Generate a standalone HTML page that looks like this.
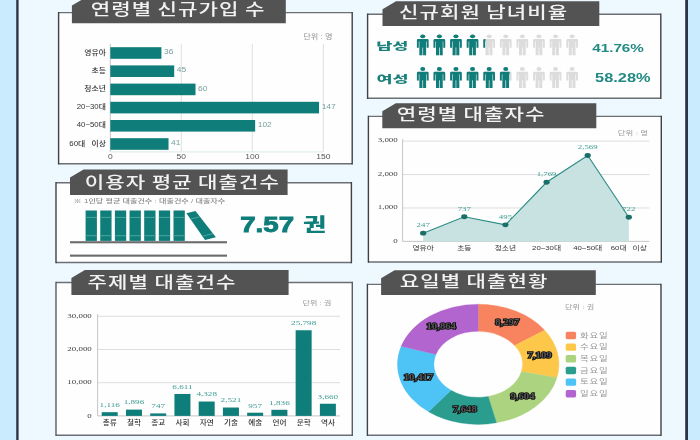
<!DOCTYPE html>
<html lang="ko"><head><meta charset="utf-8"><title>도서관 이용 통계</title>
<style>html,body{margin:0;padding:0;width:700px;height:440px;overflow:hidden;background:#eef8ff}svg{display:block}</style>
</head><body>
<svg width="700" height="440" viewBox="0 0 700 440">
<rect x="0" y="0" width="700" height="440" fill="#eef8ff"/>
<rect x="0" y="0" width="16.2" height="440" fill="#c9ebfd"/>
<rect x="16.2" y="0" width="2.4" height="440" fill="#2c3547"/>
<rect x="685.2" y="0" width="2.8" height="440" fill="#2c3547"/>
<rect x="688" y="0" width="12" height="440" fill="#c9ebfd"/>
<rect x="58.6" y="12.6" width="293.60" height="151.20" fill="#fefefe"/>
<path d="M58.6,12.6H352.2M58.6,163.8H352.2" stroke="#6b6f74" stroke-width="1.4" fill="none"/>
<path d="M58.6,11.9V164.5M352.2,11.9V164.5" stroke="#3f4247" stroke-width="1.4" fill="none"/>
<polygon points="71.9,23.2 71.9,5.6 85.4,-2.4 285.8,-2.4 285.8,23.2" fill="#535353"/>
<text transform="translate(90.73,15.14) scale(1.32,1)" font-family="'Liberation Sans','Noto Sans CJK KR',sans-serif" font-size="16" fill="#f2f2f2" letter-spacing="0.8" word-spacing="-1.1" font-weight="500" >연령별 신규가입 수</text>
<line x1="181.30" y1="43.8" x2="181.30" y2="151.9" stroke="#dcdcdf" stroke-width="0.9"/>
<line x1="252.30" y1="43.8" x2="252.30" y2="151.9" stroke="#dcdcdf" stroke-width="0.9"/>
<line x1="323.30" y1="43.8" x2="323.30" y2="151.9" stroke="#dcdcdf" stroke-width="0.9"/>
<line x1="110.3" y1="43.8" x2="110.3" y2="151.9" stroke="#bfbfbf" stroke-width="0.9"/>
<line x1="110.3" y1="151.9" x2="323.30" y2="151.9" stroke="#d6e6ea" stroke-width="0.9"/>
<rect x="110.3" y="47.20" width="51.12" height="11.6" fill="#0f7d7a"/>
<text transform="translate(164.02,54.20) scale(1.3,1)" font-family="'Liberation Sans','Noto Sans CJK KR',sans-serif" font-size="6.5" fill="#78a09d" >36</text>
<text transform="translate(105.90,54.60) scale(1.12,1)" font-family="'Liberation Sans','Noto Sans CJK KR',sans-serif" font-size="7.0" fill="#333" word-spacing="3.6" text-anchor="end" font-weight="500" >영유아</text>
<rect x="110.3" y="65.40" width="63.90" height="11.6" fill="#0f7d7a"/>
<text transform="translate(176.80,72.40) scale(1.3,1)" font-family="'Liberation Sans','Noto Sans CJK KR',sans-serif" font-size="6.5" fill="#78a09d" >45</text>
<text transform="translate(105.90,72.80) scale(1.12,1)" font-family="'Liberation Sans','Noto Sans CJK KR',sans-serif" font-size="7.0" fill="#333" word-spacing="3.6" text-anchor="end" font-weight="500" >초등</text>
<rect x="110.3" y="83.60" width="85.20" height="11.6" fill="#0f7d7a"/>
<text transform="translate(198.10,90.60) scale(1.3,1)" font-family="'Liberation Sans','Noto Sans CJK KR',sans-serif" font-size="6.5" fill="#78a09d" >60</text>
<text transform="translate(105.90,91.00) scale(1.12,1)" font-family="'Liberation Sans','Noto Sans CJK KR',sans-serif" font-size="7.0" fill="#333" word-spacing="3.6" text-anchor="end" font-weight="500" >청소년</text>
<rect x="110.3" y="101.80" width="208.74" height="11.6" fill="#0f7d7a"/>
<text transform="translate(321.64,108.80) scale(1.3,1)" font-family="'Liberation Sans','Noto Sans CJK KR',sans-serif" font-size="6.5" fill="#78a09d" >147</text>
<text transform="translate(105.90,109.20) scale(1.12,1)" font-family="'Liberation Sans','Noto Sans CJK KR',sans-serif" font-size="7.0" fill="#333" word-spacing="3.6" text-anchor="end" font-weight="500" >20~30대</text>
<rect x="110.3" y="120.00" width="144.84" height="11.6" fill="#0f7d7a"/>
<text transform="translate(257.74,127.00) scale(1.3,1)" font-family="'Liberation Sans','Noto Sans CJK KR',sans-serif" font-size="6.5" fill="#78a09d" >102</text>
<text transform="translate(105.90,127.40) scale(1.12,1)" font-family="'Liberation Sans','Noto Sans CJK KR',sans-serif" font-size="7.0" fill="#333" word-spacing="3.6" text-anchor="end" font-weight="500" >40~50대</text>
<rect x="110.3" y="138.20" width="58.22" height="11.6" fill="#0f7d7a"/>
<text transform="translate(171.12,145.20) scale(1.3,1)" font-family="'Liberation Sans','Noto Sans CJK KR',sans-serif" font-size="6.5" fill="#78a09d" >41</text>
<text transform="translate(105.90,145.60) scale(1.12,1)" font-family="'Liberation Sans','Noto Sans CJK KR',sans-serif" font-size="7.0" fill="#333" word-spacing="3.6" text-anchor="end" font-weight="500" >60대 이상</text>
<text transform="translate(110.30,158.50) scale(1.33,1)" font-family="'Liberation Sans','Noto Sans CJK KR',sans-serif" font-size="6.4" fill="#555" text-anchor="middle" >0</text>
<text transform="translate(181.30,158.50) scale(1.33,1)" font-family="'Liberation Sans','Noto Sans CJK KR',sans-serif" font-size="6.4" fill="#555" text-anchor="middle" >50</text>
<text transform="translate(252.30,158.50) scale(1.33,1)" font-family="'Liberation Sans','Noto Sans CJK KR',sans-serif" font-size="6.4" fill="#555" text-anchor="middle" >100</text>
<text transform="translate(323.30,158.50) scale(1.33,1)" font-family="'Liberation Sans','Noto Sans CJK KR',sans-serif" font-size="6.4" fill="#555" text-anchor="middle" >150</text>
<text transform="translate(303.20,39.34) scale(1.24,1)" font-family="'Liberation Sans','Noto Sans CJK KR',sans-serif" font-size="6.6" fill="#939393" >단위 : 명</text>
<rect x="56" y="182.8" width="295.40" height="79.70" fill="#fefefe"/>
<path d="M56,182.8H351.4M56,262.5H351.4" stroke="#6b6f74" stroke-width="1.4" fill="none"/>
<path d="M56,182.10000000000002V263.2M351.4,182.10000000000002V263.2" stroke="#3f4247" stroke-width="1.4" fill="none"/>
<polygon points="70,194.9 70,177.4 83.5,169.4 287.6,169.4 287.6,194.9" fill="#535353"/>
<text transform="translate(84.83,188.14) scale(1.32,1)" font-family="'Liberation Sans','Noto Sans CJK KR',sans-serif" font-size="16" fill="#f2f2f2" letter-spacing="0.8" word-spacing="-1.1" font-weight="500" >이용자 평균 대출건수</text>
<text transform="translate(73.57,203.41) scale(1.34,1)" font-family="'Liberation Sans','Noto Sans CJK KR',sans-serif" font-size="6.04" fill="#8a8a8a" font-weight="500" >※ 1인당 평균 대출건수 : 대출건수 / 대출자수</text>
<rect x="85.60" y="210.5" width="11.3" height="30.4" fill="#0f7d7a"/>
<rect x="85.60" y="216.9" width="11.3" height="1" fill="#4aa6a0"/>
<rect x="85.60" y="235.2" width="11.3" height="1" fill="#4aa6a0"/>
<rect x="100.25" y="210.5" width="11.3" height="30.4" fill="#0f7d7a"/>
<rect x="100.25" y="216.9" width="11.3" height="1" fill="#4aa6a0"/>
<rect x="100.25" y="235.2" width="11.3" height="1" fill="#4aa6a0"/>
<rect x="114.90" y="210.5" width="11.3" height="30.4" fill="#0f7d7a"/>
<rect x="114.90" y="216.9" width="11.3" height="1" fill="#4aa6a0"/>
<rect x="114.90" y="235.2" width="11.3" height="1" fill="#4aa6a0"/>
<rect x="129.55" y="210.5" width="11.3" height="30.4" fill="#0f7d7a"/>
<rect x="129.55" y="216.9" width="11.3" height="1" fill="#4aa6a0"/>
<rect x="129.55" y="235.2" width="11.3" height="1" fill="#4aa6a0"/>
<rect x="144.20" y="210.5" width="11.3" height="30.4" fill="#0f7d7a"/>
<rect x="144.20" y="216.9" width="11.3" height="1" fill="#4aa6a0"/>
<rect x="144.20" y="235.2" width="11.3" height="1" fill="#4aa6a0"/>
<rect x="158.85" y="210.5" width="11.3" height="30.4" fill="#0f7d7a"/>
<rect x="158.85" y="216.9" width="11.3" height="1" fill="#4aa6a0"/>
<rect x="158.85" y="235.2" width="11.3" height="1" fill="#4aa6a0"/>
<rect x="173.50" y="210.5" width="11.3" height="30.4" fill="#0f7d7a"/>
<rect x="173.50" y="216.9" width="11.3" height="1" fill="#4aa6a0"/>
<rect x="173.50" y="235.2" width="11.3" height="1" fill="#4aa6a0"/>
<polygon points="186.4,213.2 195.5,210.9 215.9,237.3 205,240" fill="#0f7d7a"/>
<line x1="190.49" y1="219.10" x2="199.99" y2="216.71" stroke="#4aa6a0" stroke-width="1"/>
<line x1="202.40" y1="236.25" x2="213.04" y2="233.60" stroke="#4aa6a0" stroke-width="1"/>
<rect x="70" y="241.2" width="157" height="2.1" fill="#6b6b6b"/>
<rect x="70" y="254.6" width="157" height="2.1" fill="#6b6b6b"/>
<text transform="translate(240.24,232.27) scale(1.24,1)" font-family="'Liberation Sans','Noto Sans CJK KR',sans-serif" font-size="22.3" fill="#0f7d7a" font-weight="bold" stroke="#0f7d7a" stroke-width="0.9">7.57</text>
<text transform="translate(303.10,230.90) scale(1.41,1)" font-family="'Liberation Sans','Noto Sans CJK KR',sans-serif" font-size="17.9" fill="#0f7d7a" font-weight="900" >권</text>
<rect x="56" y="282.5" width="296.30" height="152.70" fill="#fefefe"/>
<path d="M56,282.5H352.3M56,435.2H352.3" stroke="#6b6f74" stroke-width="1.4" fill="none"/>
<path d="M56,281.8V435.9M352.3,281.8V435.9" stroke="#5a5d62" stroke-width="1.4" fill="none"/>
<polygon points="71.4,294.9 71.4,278.1 84.9,270.1 288.6,270.1 288.6,294.9" fill="#535353"/>
<text transform="translate(87.61,287.84) scale(1.32,1)" font-family="'Liberation Sans','Noto Sans CJK KR',sans-serif" font-size="16" fill="#f2f2f2" letter-spacing="0.8" word-spacing="-1.1" font-weight="500" >주제별 대출건수</text>
<line x1="97.6" y1="382.70" x2="340" y2="382.70" stroke="#dadada" stroke-width="0.9"/>
<line x1="97.6" y1="349.50" x2="340" y2="349.50" stroke="#dadada" stroke-width="0.9"/>
<line x1="97.6" y1="316.30" x2="340" y2="316.30" stroke="#dadada" stroke-width="0.9"/>
<line x1="97.6" y1="314" x2="97.6" y2="415.9" stroke="#bfbfbf" stroke-width="0.9"/>
<line x1="97.6" y1="415.9" x2="340" y2="415.9" stroke="#bfbfbf" stroke-width="0.9"/>
<text transform="translate(91.80,417.50) scale(1.35,1)" font-family="'Liberation Serif',serif" font-size="6.6" fill="#444" text-anchor="end" >0</text>
<text transform="translate(91.80,384.30) scale(1.35,1)" font-family="'Liberation Serif',serif" font-size="6.6" fill="#444" text-anchor="end" >10,000</text>
<text transform="translate(91.80,351.10) scale(1.35,1)" font-family="'Liberation Serif',serif" font-size="6.6" fill="#444" text-anchor="end" >20,000</text>
<text transform="translate(91.80,317.90) scale(1.35,1)" font-family="'Liberation Serif',serif" font-size="6.6" fill="#444" text-anchor="end" >30,000</text>
<rect x="101.72" y="412.19" width="16" height="3.71" fill="#0f7d7a"/>
<text transform="translate(109.72,406.99) scale(1.35,1)" font-family="'Liberation Serif',serif" font-size="6.8" fill="#3f9c95" text-anchor="middle" >1,116</text>
<text transform="translate(109.72,425.00) scale(1.17,1)" font-family="'Liberation Sans','Noto Sans CJK KR',sans-serif" font-size="6.5" fill="#333" text-anchor="middle" font-weight="500" >총류</text>
<rect x="125.96" y="409.61" width="16" height="6.29" fill="#0f7d7a"/>
<text transform="translate(133.96,404.41) scale(1.35,1)" font-family="'Liberation Serif',serif" font-size="6.8" fill="#3f9c95" text-anchor="middle" >1,896</text>
<text transform="translate(133.96,425.00) scale(1.17,1)" font-family="'Liberation Sans','Noto Sans CJK KR',sans-serif" font-size="6.5" fill="#333" text-anchor="middle" font-weight="500" >철학</text>
<rect x="150.20" y="413.42" width="16" height="2.48" fill="#0f7d7a"/>
<text transform="translate(158.20,408.22) scale(1.35,1)" font-family="'Liberation Serif',serif" font-size="6.8" fill="#3f9c95" text-anchor="middle" >747</text>
<text transform="translate(158.20,425.00) scale(1.17,1)" font-family="'Liberation Sans','Noto Sans CJK KR',sans-serif" font-size="6.5" fill="#333" text-anchor="middle" font-weight="500" >종교</text>
<rect x="174.44" y="393.95" width="16" height="21.95" fill="#0f7d7a"/>
<text transform="translate(182.44,388.75) scale(1.35,1)" font-family="'Liberation Serif',serif" font-size="6.8" fill="#3f9c95" text-anchor="middle" >6,611</text>
<text transform="translate(182.44,425.00) scale(1.17,1)" font-family="'Liberation Sans','Noto Sans CJK KR',sans-serif" font-size="6.5" fill="#333" text-anchor="middle" font-weight="500" >사회</text>
<rect x="198.68" y="401.53" width="16" height="14.37" fill="#0f7d7a"/>
<text transform="translate(206.68,396.33) scale(1.35,1)" font-family="'Liberation Serif',serif" font-size="6.8" fill="#3f9c95" text-anchor="middle" >4,328</text>
<text transform="translate(206.68,425.00) scale(1.17,1)" font-family="'Liberation Sans','Noto Sans CJK KR',sans-serif" font-size="6.5" fill="#333" text-anchor="middle" font-weight="500" >자연</text>
<rect x="222.92" y="407.53" width="16" height="8.37" fill="#0f7d7a"/>
<text transform="translate(230.92,402.33) scale(1.35,1)" font-family="'Liberation Serif',serif" font-size="6.8" fill="#3f9c95" text-anchor="middle" >2,521</text>
<text transform="translate(230.92,425.00) scale(1.17,1)" font-family="'Liberation Sans','Noto Sans CJK KR',sans-serif" font-size="6.5" fill="#333" text-anchor="middle" font-weight="500" >기술</text>
<rect x="247.16" y="412.72" width="16" height="3.18" fill="#0f7d7a"/>
<text transform="translate(255.16,407.52) scale(1.35,1)" font-family="'Liberation Serif',serif" font-size="6.8" fill="#3f9c95" text-anchor="middle" >957</text>
<text transform="translate(255.16,425.00) scale(1.17,1)" font-family="'Liberation Sans','Noto Sans CJK KR',sans-serif" font-size="6.5" fill="#333" text-anchor="middle" font-weight="500" >예술</text>
<rect x="271.40" y="409.80" width="16" height="6.10" fill="#0f7d7a"/>
<text transform="translate(279.40,404.60) scale(1.35,1)" font-family="'Liberation Serif',serif" font-size="6.8" fill="#3f9c95" text-anchor="middle" >1,836</text>
<text transform="translate(279.40,425.00) scale(1.17,1)" font-family="'Liberation Sans','Noto Sans CJK KR',sans-serif" font-size="6.5" fill="#333" text-anchor="middle" font-weight="500" >언어</text>
<rect x="295.64" y="330.25" width="16" height="85.65" fill="#0f7d7a"/>
<text transform="translate(303.64,325.05) scale(1.35,1)" font-family="'Liberation Serif',serif" font-size="6.8" fill="#3f9c95" text-anchor="middle" >25,798</text>
<text transform="translate(303.64,425.00) scale(1.17,1)" font-family="'Liberation Sans','Noto Sans CJK KR',sans-serif" font-size="6.5" fill="#333" text-anchor="middle" font-weight="500" >문학</text>
<rect x="319.88" y="403.75" width="16" height="12.15" fill="#0f7d7a"/>
<text transform="translate(327.88,398.55) scale(1.35,1)" font-family="'Liberation Serif',serif" font-size="6.8" fill="#3f9c95" text-anchor="middle" >3,660</text>
<text transform="translate(327.88,425.00) scale(1.17,1)" font-family="'Liberation Sans','Noto Sans CJK KR',sans-serif" font-size="6.5" fill="#333" text-anchor="middle" font-weight="500" >역사</text>
<text transform="translate(302.60,305.40) scale(1.36,1)" font-family="'Liberation Sans','Noto Sans CJK KR',sans-serif" font-size="5.9" fill="#9a9a9a" >단위 : 권</text>
<rect x="367.6" y="14.2" width="293.20" height="84.10" fill="#fefefe"/>
<path d="M367.6,14.2H660.8M367.6,98.3H660.8" stroke="#6b6f74" stroke-width="1.4" fill="none"/>
<path d="M367.6,13.5V99.0M660.8,13.5V99.0" stroke="#3f4247" stroke-width="1.4" fill="none"/>
<polygon points="382.5,26.0 382.5,9.2 396.0,1.2 599.3,1.2 599.3,26.0" fill="#535353"/>
<text transform="translate(399.01,18.28) scale(1.32,1)" font-family="'Liberation Sans','Noto Sans CJK KR',sans-serif" font-size="16" fill="#f2f2f2" letter-spacing="0.8" word-spacing="-1.1" font-weight="500" >신규회원 남녀비율</text>
<text transform="translate(376.17,50.35) scale(1.66,1)" font-family="'Liberation Sans','Noto Sans CJK KR',sans-serif" font-size="10.53" fill="#1a807a" font-weight="900" >남성</text>
<text transform="translate(376.53,83.35) scale(1.65,1)" font-family="'Liberation Sans','Noto Sans CJK KR',sans-serif" font-size="10.53" fill="#1a807a" font-weight="900" >여성</text>
<defs><clipPath id="cm"><rect x="0" y="0" width="485.38" height="100"/></clipPath><clipPath id="cf"><rect x="0" y="0" width="509.59" height="100"/></clipPath></defs>
<g transform="translate(416.90,34.40)" fill="#dcdcdc"><ellipse cx="5.85" cy="1.9" rx="2.5" ry="1.9"/><path d="M1.3,4.6 H10.4 Q11.7,4.6 11.7,5.9 V13.3 H9.8 V7.2 H9.2 V20.8 H6.2 V13.2 H5.5 V20.8 H2.5 V7.2 H1.9 V13.3 H0 V5.9 Q0,4.6 1.3,4.6 Z"/></g>
<g transform="translate(433.50,34.40)" fill="#dcdcdc"><ellipse cx="5.85" cy="1.9" rx="2.5" ry="1.9"/><path d="M1.3,4.6 H10.4 Q11.7,4.6 11.7,5.9 V13.3 H9.8 V7.2 H9.2 V20.8 H6.2 V13.2 H5.5 V20.8 H2.5 V7.2 H1.9 V13.3 H0 V5.9 Q0,4.6 1.3,4.6 Z"/></g>
<g transform="translate(450.10,34.40)" fill="#dcdcdc"><ellipse cx="5.85" cy="1.9" rx="2.5" ry="1.9"/><path d="M1.3,4.6 H10.4 Q11.7,4.6 11.7,5.9 V13.3 H9.8 V7.2 H9.2 V20.8 H6.2 V13.2 H5.5 V20.8 H2.5 V7.2 H1.9 V13.3 H0 V5.9 Q0,4.6 1.3,4.6 Z"/></g>
<g transform="translate(466.70,34.40)" fill="#dcdcdc"><ellipse cx="5.85" cy="1.9" rx="2.5" ry="1.9"/><path d="M1.3,4.6 H10.4 Q11.7,4.6 11.7,5.9 V13.3 H9.8 V7.2 H9.2 V20.8 H6.2 V13.2 H5.5 V20.8 H2.5 V7.2 H1.9 V13.3 H0 V5.9 Q0,4.6 1.3,4.6 Z"/></g>
<g transform="translate(483.30,34.40)" fill="#dcdcdc"><ellipse cx="5.85" cy="1.9" rx="2.5" ry="1.9"/><path d="M1.3,4.6 H10.4 Q11.7,4.6 11.7,5.9 V13.3 H9.8 V7.2 H9.2 V20.8 H6.2 V13.2 H5.5 V20.8 H2.5 V7.2 H1.9 V13.3 H0 V5.9 Q0,4.6 1.3,4.6 Z"/></g>
<g transform="translate(499.90,34.40)" fill="#dcdcdc"><ellipse cx="5.85" cy="1.9" rx="2.5" ry="1.9"/><path d="M1.3,4.6 H10.4 Q11.7,4.6 11.7,5.9 V13.3 H9.8 V7.2 H9.2 V20.8 H6.2 V13.2 H5.5 V20.8 H2.5 V7.2 H1.9 V13.3 H0 V5.9 Q0,4.6 1.3,4.6 Z"/></g>
<g transform="translate(516.50,34.40)" fill="#dcdcdc"><ellipse cx="5.85" cy="1.9" rx="2.5" ry="1.9"/><path d="M1.3,4.6 H10.4 Q11.7,4.6 11.7,5.9 V13.3 H9.8 V7.2 H9.2 V20.8 H6.2 V13.2 H5.5 V20.8 H2.5 V7.2 H1.9 V13.3 H0 V5.9 Q0,4.6 1.3,4.6 Z"/></g>
<g transform="translate(533.10,34.40)" fill="#dcdcdc"><ellipse cx="5.85" cy="1.9" rx="2.5" ry="1.9"/><path d="M1.3,4.6 H10.4 Q11.7,4.6 11.7,5.9 V13.3 H9.8 V7.2 H9.2 V20.8 H6.2 V13.2 H5.5 V20.8 H2.5 V7.2 H1.9 V13.3 H0 V5.9 Q0,4.6 1.3,4.6 Z"/></g>
<g transform="translate(549.70,34.40)" fill="#dcdcdc"><ellipse cx="5.85" cy="1.9" rx="2.5" ry="1.9"/><path d="M1.3,4.6 H10.4 Q11.7,4.6 11.7,5.9 V13.3 H9.8 V7.2 H9.2 V20.8 H6.2 V13.2 H5.5 V20.8 H2.5 V7.2 H1.9 V13.3 H0 V5.9 Q0,4.6 1.3,4.6 Z"/></g>
<g transform="translate(566.30,34.40)" fill="#dcdcdc"><ellipse cx="5.85" cy="1.9" rx="2.5" ry="1.9"/><path d="M1.3,4.6 H10.4 Q11.7,4.6 11.7,5.9 V13.3 H9.8 V7.2 H9.2 V20.8 H6.2 V13.2 H5.5 V20.8 H2.5 V7.2 H1.9 V13.3 H0 V5.9 Q0,4.6 1.3,4.6 Z"/></g>
<g clip-path="url(#cm)">
<g transform="translate(416.90,34.40)" fill="#0f7d7a"><ellipse cx="5.85" cy="1.9" rx="2.5" ry="1.9"/><path d="M1.3,4.6 H10.4 Q11.7,4.6 11.7,5.9 V13.3 H9.8 V7.2 H9.2 V20.8 H6.2 V13.2 H5.5 V20.8 H2.5 V7.2 H1.9 V13.3 H0 V5.9 Q0,4.6 1.3,4.6 Z"/></g>
<g transform="translate(433.50,34.40)" fill="#0f7d7a"><ellipse cx="5.85" cy="1.9" rx="2.5" ry="1.9"/><path d="M1.3,4.6 H10.4 Q11.7,4.6 11.7,5.9 V13.3 H9.8 V7.2 H9.2 V20.8 H6.2 V13.2 H5.5 V20.8 H2.5 V7.2 H1.9 V13.3 H0 V5.9 Q0,4.6 1.3,4.6 Z"/></g>
<g transform="translate(450.10,34.40)" fill="#0f7d7a"><ellipse cx="5.85" cy="1.9" rx="2.5" ry="1.9"/><path d="M1.3,4.6 H10.4 Q11.7,4.6 11.7,5.9 V13.3 H9.8 V7.2 H9.2 V20.8 H6.2 V13.2 H5.5 V20.8 H2.5 V7.2 H1.9 V13.3 H0 V5.9 Q0,4.6 1.3,4.6 Z"/></g>
<g transform="translate(466.70,34.40)" fill="#0f7d7a"><ellipse cx="5.85" cy="1.9" rx="2.5" ry="1.9"/><path d="M1.3,4.6 H10.4 Q11.7,4.6 11.7,5.9 V13.3 H9.8 V7.2 H9.2 V20.8 H6.2 V13.2 H5.5 V20.8 H2.5 V7.2 H1.9 V13.3 H0 V5.9 Q0,4.6 1.3,4.6 Z"/></g>
<g transform="translate(483.30,34.40)" fill="#0f7d7a"><ellipse cx="5.85" cy="1.9" rx="2.5" ry="1.9"/><path d="M1.3,4.6 H10.4 Q11.7,4.6 11.7,5.9 V13.3 H9.8 V7.2 H9.2 V20.8 H6.2 V13.2 H5.5 V20.8 H2.5 V7.2 H1.9 V13.3 H0 V5.9 Q0,4.6 1.3,4.6 Z"/></g>
</g>
<g transform="translate(416.90,67.10)" fill="#dcdcdc"><ellipse cx="5.85" cy="1.9" rx="2.5" ry="1.9"/><path d="M1.3,4.6 H10.4 Q11.7,4.6 11.7,5.9 V13.3 H9.8 V7.2 H9.2 V20.8 H6.2 V13.2 H5.5 V20.8 H2.5 V7.2 H1.9 V13.3 H0 V5.9 Q0,4.6 1.3,4.6 Z"/></g>
<g transform="translate(433.50,67.10)" fill="#dcdcdc"><ellipse cx="5.85" cy="1.9" rx="2.5" ry="1.9"/><path d="M1.3,4.6 H10.4 Q11.7,4.6 11.7,5.9 V13.3 H9.8 V7.2 H9.2 V20.8 H6.2 V13.2 H5.5 V20.8 H2.5 V7.2 H1.9 V13.3 H0 V5.9 Q0,4.6 1.3,4.6 Z"/></g>
<g transform="translate(450.10,67.10)" fill="#dcdcdc"><ellipse cx="5.85" cy="1.9" rx="2.5" ry="1.9"/><path d="M1.3,4.6 H10.4 Q11.7,4.6 11.7,5.9 V13.3 H9.8 V7.2 H9.2 V20.8 H6.2 V13.2 H5.5 V20.8 H2.5 V7.2 H1.9 V13.3 H0 V5.9 Q0,4.6 1.3,4.6 Z"/></g>
<g transform="translate(466.70,67.10)" fill="#dcdcdc"><ellipse cx="5.85" cy="1.9" rx="2.5" ry="1.9"/><path d="M1.3,4.6 H10.4 Q11.7,4.6 11.7,5.9 V13.3 H9.8 V7.2 H9.2 V20.8 H6.2 V13.2 H5.5 V20.8 H2.5 V7.2 H1.9 V13.3 H0 V5.9 Q0,4.6 1.3,4.6 Z"/></g>
<g transform="translate(483.30,67.10)" fill="#dcdcdc"><ellipse cx="5.85" cy="1.9" rx="2.5" ry="1.9"/><path d="M1.3,4.6 H10.4 Q11.7,4.6 11.7,5.9 V13.3 H9.8 V7.2 H9.2 V20.8 H6.2 V13.2 H5.5 V20.8 H2.5 V7.2 H1.9 V13.3 H0 V5.9 Q0,4.6 1.3,4.6 Z"/></g>
<g transform="translate(499.90,67.10)" fill="#dcdcdc"><ellipse cx="5.85" cy="1.9" rx="2.5" ry="1.9"/><path d="M1.3,4.6 H10.4 Q11.7,4.6 11.7,5.9 V13.3 H9.8 V7.2 H9.2 V20.8 H6.2 V13.2 H5.5 V20.8 H2.5 V7.2 H1.9 V13.3 H0 V5.9 Q0,4.6 1.3,4.6 Z"/></g>
<g transform="translate(516.50,67.10)" fill="#dcdcdc"><ellipse cx="5.85" cy="1.9" rx="2.5" ry="1.9"/><path d="M1.3,4.6 H10.4 Q11.7,4.6 11.7,5.9 V13.3 H9.8 V7.2 H9.2 V20.8 H6.2 V13.2 H5.5 V20.8 H2.5 V7.2 H1.9 V13.3 H0 V5.9 Q0,4.6 1.3,4.6 Z"/></g>
<g transform="translate(533.10,67.10)" fill="#dcdcdc"><ellipse cx="5.85" cy="1.9" rx="2.5" ry="1.9"/><path d="M1.3,4.6 H10.4 Q11.7,4.6 11.7,5.9 V13.3 H9.8 V7.2 H9.2 V20.8 H6.2 V13.2 H5.5 V20.8 H2.5 V7.2 H1.9 V13.3 H0 V5.9 Q0,4.6 1.3,4.6 Z"/></g>
<g transform="translate(549.70,67.10)" fill="#dcdcdc"><ellipse cx="5.85" cy="1.9" rx="2.5" ry="1.9"/><path d="M1.3,4.6 H10.4 Q11.7,4.6 11.7,5.9 V13.3 H9.8 V7.2 H9.2 V20.8 H6.2 V13.2 H5.5 V20.8 H2.5 V7.2 H1.9 V13.3 H0 V5.9 Q0,4.6 1.3,4.6 Z"/></g>
<g transform="translate(566.30,67.10)" fill="#dcdcdc"><ellipse cx="5.85" cy="1.9" rx="2.5" ry="1.9"/><path d="M1.3,4.6 H10.4 Q11.7,4.6 11.7,5.9 V13.3 H9.8 V7.2 H9.2 V20.8 H6.2 V13.2 H5.5 V20.8 H2.5 V7.2 H1.9 V13.3 H0 V5.9 Q0,4.6 1.3,4.6 Z"/></g>
<g clip-path="url(#cf)">
<g transform="translate(416.90,67.10)" fill="#0f7d7a"><ellipse cx="5.85" cy="1.9" rx="2.5" ry="1.9"/><path d="M1.3,4.6 H10.4 Q11.7,4.6 11.7,5.9 V13.3 H9.8 V7.2 H9.2 V20.8 H6.2 V13.2 H5.5 V20.8 H2.5 V7.2 H1.9 V13.3 H0 V5.9 Q0,4.6 1.3,4.6 Z"/></g>
<g transform="translate(433.50,67.10)" fill="#0f7d7a"><ellipse cx="5.85" cy="1.9" rx="2.5" ry="1.9"/><path d="M1.3,4.6 H10.4 Q11.7,4.6 11.7,5.9 V13.3 H9.8 V7.2 H9.2 V20.8 H6.2 V13.2 H5.5 V20.8 H2.5 V7.2 H1.9 V13.3 H0 V5.9 Q0,4.6 1.3,4.6 Z"/></g>
<g transform="translate(450.10,67.10)" fill="#0f7d7a"><ellipse cx="5.85" cy="1.9" rx="2.5" ry="1.9"/><path d="M1.3,4.6 H10.4 Q11.7,4.6 11.7,5.9 V13.3 H9.8 V7.2 H9.2 V20.8 H6.2 V13.2 H5.5 V20.8 H2.5 V7.2 H1.9 V13.3 H0 V5.9 Q0,4.6 1.3,4.6 Z"/></g>
<g transform="translate(466.70,67.10)" fill="#0f7d7a"><ellipse cx="5.85" cy="1.9" rx="2.5" ry="1.9"/><path d="M1.3,4.6 H10.4 Q11.7,4.6 11.7,5.9 V13.3 H9.8 V7.2 H9.2 V20.8 H6.2 V13.2 H5.5 V20.8 H2.5 V7.2 H1.9 V13.3 H0 V5.9 Q0,4.6 1.3,4.6 Z"/></g>
<g transform="translate(483.30,67.10)" fill="#0f7d7a"><ellipse cx="5.85" cy="1.9" rx="2.5" ry="1.9"/><path d="M1.3,4.6 H10.4 Q11.7,4.6 11.7,5.9 V13.3 H9.8 V7.2 H9.2 V20.8 H6.2 V13.2 H5.5 V20.8 H2.5 V7.2 H1.9 V13.3 H0 V5.9 Q0,4.6 1.3,4.6 Z"/></g>
<g transform="translate(499.90,67.10)" fill="#0f7d7a"><ellipse cx="5.85" cy="1.9" rx="2.5" ry="1.9"/><path d="M1.3,4.6 H10.4 Q11.7,4.6 11.7,5.9 V13.3 H9.8 V7.2 H9.2 V20.8 H6.2 V13.2 H5.5 V20.8 H2.5 V7.2 H1.9 V13.3 H0 V5.9 Q0,4.6 1.3,4.6 Z"/></g>
</g>
<text transform="translate(592.19,52.18) scale(1.306,1)" font-family="'Liberation Sans','Noto Sans CJK KR',sans-serif" font-size="11.69" fill="#218a83" font-weight="bold" >41.76%</text>
<text transform="translate(595.11,82.13) scale(1.365,1)" font-family="'Liberation Sans','Noto Sans CJK KR',sans-serif" font-size="11.97" fill="#218a83" font-weight="bold" >58.28%</text>
<rect x="368.4" y="116.4" width="292.90" height="145.60" fill="#fefefe"/>
<path d="M368.4,116.4H661.3M368.4,262H661.3" stroke="#6b6f74" stroke-width="1.4" fill="none"/>
<path d="M368.4,115.7V262.7M661.3,115.7V262.7" stroke="#3f4247" stroke-width="1.4" fill="none"/>
<polygon points="382.3,128.2 382.3,111.2 395.8,103.2 596.3,103.2 596.3,128.2" fill="#535353"/>
<text transform="translate(396.72,120.38) scale(1.32,1)" font-family="'Liberation Sans','Noto Sans CJK KR',sans-serif" font-size="16" fill="#f2f2f2" letter-spacing="0.8" word-spacing="-1.1" font-weight="500" >연령별 대출자수</text>
<line x1="402.6" y1="207.97" x2="649.4" y2="207.97" stroke="#dadada" stroke-width="0.9"/>
<line x1="402.6" y1="174.54" x2="649.4" y2="174.54" stroke="#dadada" stroke-width="0.9"/>
<line x1="402.6" y1="141.11" x2="649.4" y2="141.11" stroke="#dadada" stroke-width="0.9"/>
<line x1="402.6" y1="139" x2="402.6" y2="241.4" stroke="#bfbfbf" stroke-width="0.9"/>
<line x1="402.6" y1="241.4" x2="649.4" y2="241.4" stroke="#bfbfbf" stroke-width="0.9"/>
<text transform="translate(397.80,242.60) scale(1.4,1)" font-family="'Liberation Serif',serif" font-size="6.4" fill="#444" text-anchor="end" >0</text>
<text transform="translate(397.80,209.17) scale(1.4,1)" font-family="'Liberation Serif',serif" font-size="6.4" fill="#444" text-anchor="end" >1,000</text>
<text transform="translate(397.80,175.74) scale(1.4,1)" font-family="'Liberation Serif',serif" font-size="6.4" fill="#444" text-anchor="end" >2,000</text>
<text transform="translate(397.80,142.31) scale(1.4,1)" font-family="'Liberation Serif',serif" font-size="6.4" fill="#444" text-anchor="end" >3,000</text>
<path d="M423.17,241.4 L423.17,233.14 L464.30,216.76 L505.43,224.85 L546.57,182.26 L587.70,155.52 L628.83,217.26 L628.83,241.4 Z" fill="#c8e1e1"/>
<polyline points="423.17,233.14 464.30,216.76 505.43,224.85 546.57,182.26 587.70,155.52 628.83,217.26" fill="none" stroke="#2a8a84" stroke-width="1.1"/>
<ellipse cx="423.17" cy="233.14" rx="3.1" ry="2.4" fill="#1a6f69"/>
<text transform="translate(423.17,226.94) scale(1.3,1)" font-family="'Liberation Serif',serif" font-size="6.8" fill="#3f9c95" text-anchor="middle" >247</text>
<text transform="translate(423.17,249.80) scale(1.3,1)" font-family="'Liberation Sans','Noto Sans CJK KR',sans-serif" font-size="6.0" fill="#333" word-spacing="3" text-anchor="middle" >영유아</text>
<ellipse cx="464.30" cy="216.76" rx="3.1" ry="2.4" fill="#1a6f69"/>
<text transform="translate(464.30,210.56) scale(1.3,1)" font-family="'Liberation Serif',serif" font-size="6.8" fill="#3f9c95" text-anchor="middle" >737</text>
<text transform="translate(464.30,249.80) scale(1.3,1)" font-family="'Liberation Sans','Noto Sans CJK KR',sans-serif" font-size="6.0" fill="#333" word-spacing="3" text-anchor="middle" >초등</text>
<ellipse cx="505.43" cy="224.85" rx="3.1" ry="2.4" fill="#1a6f69"/>
<text transform="translate(505.43,218.65) scale(1.3,1)" font-family="'Liberation Serif',serif" font-size="6.8" fill="#3f9c95" text-anchor="middle" >495</text>
<text transform="translate(505.43,249.80) scale(1.3,1)" font-family="'Liberation Sans','Noto Sans CJK KR',sans-serif" font-size="6.0" fill="#333" word-spacing="3" text-anchor="middle" >청소년</text>
<ellipse cx="546.57" cy="182.26" rx="3.1" ry="2.4" fill="#1a6f69"/>
<text transform="translate(546.57,176.06) scale(1.3,1)" font-family="'Liberation Serif',serif" font-size="6.8" fill="#3f9c95" text-anchor="middle" >1,769</text>
<text transform="translate(546.57,249.80) scale(1.3,1)" font-family="'Liberation Sans','Noto Sans CJK KR',sans-serif" font-size="6.0" fill="#333" word-spacing="3" text-anchor="middle" >20~30대</text>
<ellipse cx="587.70" cy="155.52" rx="3.1" ry="2.4" fill="#1a6f69"/>
<text transform="translate(587.70,149.32) scale(1.3,1)" font-family="'Liberation Serif',serif" font-size="6.8" fill="#3f9c95" text-anchor="middle" >2,569</text>
<text transform="translate(587.70,249.80) scale(1.3,1)" font-family="'Liberation Sans','Noto Sans CJK KR',sans-serif" font-size="6.0" fill="#333" word-spacing="3" text-anchor="middle" >40~50대</text>
<ellipse cx="628.83" cy="217.26" rx="3.1" ry="2.4" fill="#1a6f69"/>
<text transform="translate(628.83,211.06) scale(1.3,1)" font-family="'Liberation Serif',serif" font-size="6.8" fill="#3f9c95" text-anchor="middle" >722</text>
<text transform="translate(628.83,249.80) scale(1.3,1)" font-family="'Liberation Sans','Noto Sans CJK KR',sans-serif" font-size="6.0" fill="#333" word-spacing="3" text-anchor="middle" >60대 이상</text>
<text transform="translate(617.80,135.16) scale(1.36,1)" font-family="'Liberation Sans','Noto Sans CJK KR',sans-serif" font-size="6.2" fill="#999" >단위 : 명</text>
<rect x="367.4" y="284.4" width="293.60" height="150.80" fill="#fefefe"/>
<path d="M367.4,284.4H661M367.4,435.2H661" stroke="#6b6f74" stroke-width="1.4" fill="none"/>
<path d="M367.4,283.7V435.9M661,283.7V435.9" stroke="#3f4247" stroke-width="1.4" fill="none"/>
<polygon points="381.1,294.9 381.1,278.2 394.6,270.2 595.8,270.2 595.8,294.9" fill="#535353"/>
<text transform="translate(399.72,286.58) scale(1.32,1)" font-family="'Liberation Sans','Noto Sans CJK KR',sans-serif" font-size="16" fill="#f2f2f2" letter-spacing="0.8" word-spacing="-1.1" font-weight="500" >요일별 대출현황</text>
<path d="M478.20,304.20 A80.8,60.1 0 0 1 544.69,330.15 L514.64,345.59 A44.28,32.93 0 0 0 478.20,331.37 Z" fill="#f7845e" stroke="#f7845e" stroke-width="0.3"/>
<path d="M544.69,330.15 A80.8,60.1 0 0 1 556.98,377.64 L521.37,371.61 A44.28,32.93 0 0 0 514.64,345.59 Z" fill="#fdc84a" stroke="#fdc84a" stroke-width="0.3"/>
<path d="M556.98,377.64 A80.8,60.1 0 0 1 496.48,422.84 L488.22,396.38 A44.28,32.93 0 0 0 521.37,371.61 Z" fill="#acd37f" stroke="#acd37f" stroke-width="0.3"/>
<path d="M496.48,422.84 A80.8,60.1 0 0 1 428.49,411.68 L450.96,390.26 A44.28,32.93 0 0 0 488.22,396.38 Z" fill="#2a9d8f" stroke="#2a9d8f" stroke-width="0.3"/>
<path d="M428.49,411.68 A80.8,60.1 0 0 1 401.14,346.24 L435.97,354.40 A44.28,32.93 0 0 0 450.96,390.26 Z" fill="#4ec3f5" stroke="#4ec3f5" stroke-width="0.3"/>
<path d="M401.14,346.24 A80.8,60.1 0 0 1 478.20,304.20 L478.20,331.37 A44.28,32.93 0 0 0 435.97,354.40 Z" fill="#b264cf" stroke="#b264cf" stroke-width="0.3"/>
<text transform="translate(507.26,325.11) scale(1.45,1)" font-family="'Liberation Serif',serif" font-size="7.4" fill="#5a5a5a" text-anchor="middle" font-weight="bold" stroke="#111" stroke-width="1.5" paint-order="stroke">8,297</text>
<text transform="translate(539.61,357.50) scale(1.45,1)" font-family="'Liberation Serif',serif" font-size="7.4" fill="#5a5a5a" text-anchor="middle" font-weight="bold" stroke="#111" stroke-width="1.5" paint-order="stroke">7,109</text>
<text transform="translate(522.52,399.12) scale(1.45,1)" font-family="'Liberation Serif',serif" font-size="7.4" fill="#5a5a5a" text-anchor="middle" font-weight="bold" stroke="#111" stroke-width="1.5" paint-order="stroke">9,604</text>
<text transform="translate(464.72,411.72) scale(1.45,1)" font-family="'Liberation Serif',serif" font-size="7.4" fill="#5a5a5a" text-anchor="middle" font-weight="bold" stroke="#111" stroke-width="1.5" paint-order="stroke">7,648</text>
<text transform="translate(418.48,380.11) scale(1.45,1)" font-family="'Liberation Serif',serif" font-size="7.4" fill="#5a5a5a" text-anchor="middle" font-weight="bold" stroke="#111" stroke-width="1.5" paint-order="stroke">10,417</text>
<text transform="translate(441.22,328.79) scale(1.45,1)" font-family="'Liberation Serif',serif" font-size="7.4" fill="#5a5a5a" text-anchor="middle" font-weight="bold" stroke="#111" stroke-width="1.5" paint-order="stroke">10,864</text>
<text transform="translate(564.97,309.36) scale(1.4,1)" font-family="'Liberation Sans','Noto Sans CJK KR',sans-serif" font-size="5.8" fill="#9a9a9a" >단위 : 권</text>
<rect x="565.7" y="331.80" width="10.4" height="7.4" rx="1.6" fill="#f7845e"/>
<text transform="translate(580.00,337.70) scale(1.3,1)" font-family="'Liberation Sans','Noto Sans CJK KR',sans-serif" font-size="7.3" fill="#999" letter-spacing="0.6" >화요일</text>
<rect x="565.7" y="343.45" width="10.4" height="7.4" rx="1.6" fill="#fdc84a"/>
<text transform="translate(580.00,349.35) scale(1.3,1)" font-family="'Liberation Sans','Noto Sans CJK KR',sans-serif" font-size="7.3" fill="#999" letter-spacing="0.6" >수요일</text>
<rect x="565.7" y="355.10" width="10.4" height="7.4" rx="1.6" fill="#acd37f"/>
<text transform="translate(580.00,361.00) scale(1.3,1)" font-family="'Liberation Sans','Noto Sans CJK KR',sans-serif" font-size="7.3" fill="#999" letter-spacing="0.6" >목요일</text>
<rect x="565.7" y="366.75" width="10.4" height="7.4" rx="1.6" fill="#2a9d8f"/>
<text transform="translate(580.00,372.65) scale(1.3,1)" font-family="'Liberation Sans','Noto Sans CJK KR',sans-serif" font-size="7.3" fill="#999" letter-spacing="0.6" >금요일</text>
<rect x="565.7" y="378.40" width="10.4" height="7.4" rx="1.6" fill="#4ec3f5"/>
<text transform="translate(580.00,384.30) scale(1.3,1)" font-family="'Liberation Sans','Noto Sans CJK KR',sans-serif" font-size="7.3" fill="#999" letter-spacing="0.6" >토요일</text>
<rect x="565.7" y="390.05" width="10.4" height="7.4" rx="1.6" fill="#b264cf"/>
<text transform="translate(580.00,395.95) scale(1.3,1)" font-family="'Liberation Sans','Noto Sans CJK KR',sans-serif" font-size="7.3" fill="#999" letter-spacing="0.6" >일요일</text>
</svg>
</body></html>
